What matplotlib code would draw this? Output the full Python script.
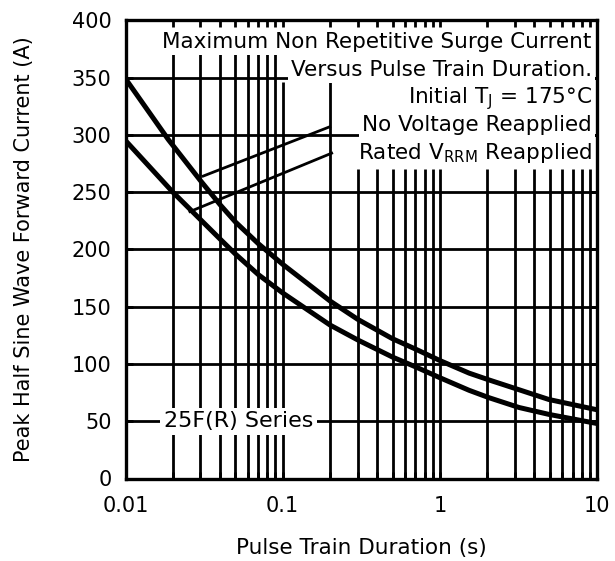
import numpy as np
import matplotlib
matplotlib.use("Agg")
import matplotlib.pyplot as plt

# Surge current vs. pulse train duration, 25F(R) series
duration_no_v = [0.01, 0.0187, 0.03, 0.04, 0.05, 0.07, 0.1, 0.2, 0.3, 0.5,
                 0.7, 1.0, 1.535, 2.06, 3.19, 4.93, 10.0]
current_no_v = [349, 296, 260, 239, 224, 205, 187, 155, 139, 122,
                113, 103, 92, 86, 77.5, 69, 60]

duration_rated = [0.01, 0.02, 0.03, 0.04, 0.05, 0.07, 0.1, 0.2, 0.3, 0.5,
                  0.7, 1.0, 1.535, 2.06, 3.19, 4.93, 10.0]
current_rated = [295, 250, 226, 209, 196, 178, 162, 134, 121, 106,
                 97.5, 88, 77, 70.5, 62, 56, 48]

# leader lines: (text end) -> (curve)
leader_no_v = ([0.199, 0.0312], [307, 264])
leader_rated = ([0.205, 0.0257], [284, 233])

x_ticks = [0.01, 0.1, 1, 10]
x_tick_labels = ["0.01", "0.1", "1", "10"]
y_ticks = [0, 50, 100, 150, 200, 250, 300, 350, 400]

note_lines = [
    "Maximum Non Repetitive Surge Current",
    "Versus Pulse Train Duration.",
    r"Initial T$_\mathregular{J}$ = 175°C",
    "No Voltage Reapplied",
    r"Rated V$_\mathregular{RRM}$ Reapplied",
]
series_label = "25F(R) Series"

plt.rcParams["font.family"] = ["DejaVu Sans"]

fig = plt.figure(figsize=(6.15, 5.61), dpi=100)
ax = fig.add_axes([125.5 / 615, 1 - 478.5 / 561, 471.5 / 615, 458.2 / 561])
ax.set_xscale("log")
ax.set_xlim(0.01, 10)
ax.set_ylim(0, 400)

# grid: horizontal lines full width, vertical lines trimmed under the notes
for yv in y_ticks[1:-1]:
    ax.axhline(yv, color="black", lw=2.0, zorder=1)

xform = ax.get_xaxis_transform()
for dec in [0.01, 0.1, 1.0]:
    for m in range(1, 10):
        xv = dec * m
        if xv <= 0.01:
            continue
        if xv < 0.095:
            top = 0.93
        elif xv < 0.25:
            top = 0.866
        else:
            top = 0.675
        ax.plot([xv, xv], [0, top], color="black", lw=2.0, zorder=1,
                transform=xform, solid_capstyle="butt")

# curves
ax.plot(duration_no_v, current_no_v, color="black", lw=3.6, zorder=4,
        solid_joinstyle="round")
ax.plot(duration_rated, current_rated, color="black", lw=3.6, zorder=4,
        solid_joinstyle="round")
ax.plot(*leader_no_v, color="black", lw=2.0, zorder=4)
ax.plot(*leader_rated, color="black", lw=2.0, zorder=4)

# notes block
baselines = [0.939, 0.878, 0.819, 0.758, 0.697]
for txt, yb in zip(note_lines, baselines):
    ax.text(0.989, yb, txt, transform=ax.transAxes, ha="right", va="baseline",
            fontsize=15.5, zorder=3,
            bbox=dict(facecolor="white", edgecolor="none", pad=2.0))

ax.text(0.0525, 50, series_label, ha="center", va="center", fontsize=16,
        zorder=3, bbox=dict(facecolor="white", edgecolor="none", pad=2.5))

# axes styling
ax.set_xticks(x_ticks)
ax.set_xticklabels(x_tick_labels)
ax.set_yticks(y_ticks)
ax.tick_params(axis="both", which="both", direction="in", top=True,
               right=True, width=2.0, color="black", labelsize=15)
ax.tick_params(axis="both", which="major", length=5)
ax.tick_params(axis="both", which="minor", length=5)
ax.tick_params(axis="x", pad=12.5)
ax.tick_params(axis="y", pad=10)
for sp in ax.spines.values():
    sp.set_linewidth(2.4)
    sp.set_zorder(6)

ax.set_xlabel("Pulse Train Duration (s)", fontsize=15.5, labelpad=16)
ax.set_ylabel("Peak Half Sine Wave Forward Current (A)", fontsize=15)
ax.yaxis.set_label_coords(-0.194, 0.5)

fig.savefig("out.png", dpi=100)
